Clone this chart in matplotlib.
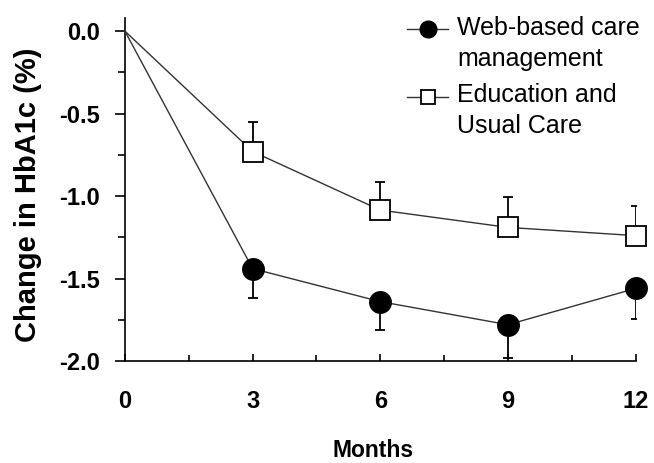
import matplotlib.pyplot as plt
from matplotlib.legend_handler import HandlerLine2D

plt.rcParams['font.family'] = ['Liberation Sans', 'DejaVu Sans']

months = [0, 3, 6, 9, 12]
web = [0.0, -1.44, -1.64, -1.78, -1.56]
web_err = [0.0, 0.18, 0.17, 0.20, 0.185]
edu = [0.0, -0.73, -1.085, -1.19, -1.24]
edu_err = [0.0, 0.18, 0.17, 0.185, 0.18]
legend_labels = ['Web-based care\nmanagement', 'Education and\nUsual Care']


class FirstLineHandler(HandlerLine2D):
    # put the legend symbol next to the first line of a two-line label
    def __init__(self, ms, shift=10.8, **kw):
        super().__init__(**kw)
        self.ms = ms
        self.shift = shift

    def create_artists(self, *args, **kwargs):
        artists = super().create_artists(*args, **kwargs)
        for a in artists:
            x, y = a.get_data()
            a.set_data(x, [v + self.shift for v in y])
            a.set_markersize(self.ms)
        return artists


fig = plt.figure(figsize=(6.54, 4.63), dpi=100)
ax = fig.add_axes([0.191, 0.2203, 0.781, 0.741])

# one-sided error bars: web goes down, education goes up
ax.errorbar(months[1:], web[1:], yerr=[web_err[1:], [0] * 4], fmt='none',
            ecolor='black', elinewidth=1.3, capsize=3.3, capthick=1.3, zorder=2)
ax.errorbar(months[1:], edu[1:], yerr=[[0] * 4, edu_err[1:]], fmt='none',
            ecolor='black', elinewidth=1.3, capsize=3.3, capthick=1.3, zorder=2)

l1, = ax.plot(months, web, color='#333333', lw=1.0, marker='o', markersize=15.5,
              markerfacecolor='black', markeredgecolor='black', markevery=[1, 2, 3, 4],
              zorder=3, clip_on=False)
l2, = ax.plot(months, edu, color='#333333', lw=1.0, marker='s', markersize=15,
              markerfacecolor='white', markeredgecolor='black', markeredgewidth=1.3,
              markevery=[1, 2, 3, 4], zorder=3, clip_on=False)

ax.set_xlim(0, 12)
ax.set_ylim(-2.0, 0.08)
ax.set_xticks(months)
ax.set_xticks([1.5, 4.5, 7.5, 10.5], minor=True)
ax.set_yticks([0.0, -0.5, -1.0, -1.5, -2.0])
ax.set_yticks([-0.25, -0.75, -1.25, -1.75], minor=True)
ax.set_yticklabels(['0.0', '-0.5', '-1.0', '-1.5', '-2.0'])
ax.tick_params(axis='x', which='major', direction='in', length=5, width=1.2, pad=21)
ax.tick_params(axis='x', which='minor', direction='in', length=4, width=1.2)
ax.tick_params(axis='y', which='major', direction='out', length=7, width=1.2, pad=11)
ax.tick_params(axis='y', which='minor', direction='out', length=5, width=1.2)
for lab in ax.get_xticklabels() + ax.get_yticklabels():
    lab.set_fontsize(17)
    lab.set_fontweight('bold')

ax.spines['top'].set_visible(False)
ax.spines['right'].set_visible(False)
ax.spines['left'].set_linewidth(1.2)
ax.spines['bottom'].set_linewidth(1.2)

ax.set_xlabel('Months', fontsize=16.5, fontweight='bold')
ax.xaxis.set_label_coords(0.485, -0.226)
ax.set_ylabel('Change in HbA1c (%)', fontsize=21, fontweight='bold')
ax.yaxis.set_label_coords(-0.162, 0.484)

leg = fig.legend([l1, l2], legend_labels, loc='upper left',
                 bbox_to_anchor=(407 / 654, 1 - 16 / 463), frameon=False,
                 fontsize=18, handlelength=1.64, handletextpad=0.36, labelspacing=0.5,
                 borderpad=0, borderaxespad=0,
                 handler_map={l1: FirstLineHandler(12), l2: FirstLineHandler(10)})
for t in leg.get_texts():
    t.set_linespacing(1.36)

plt.savefig('out.png', dpi=100)
